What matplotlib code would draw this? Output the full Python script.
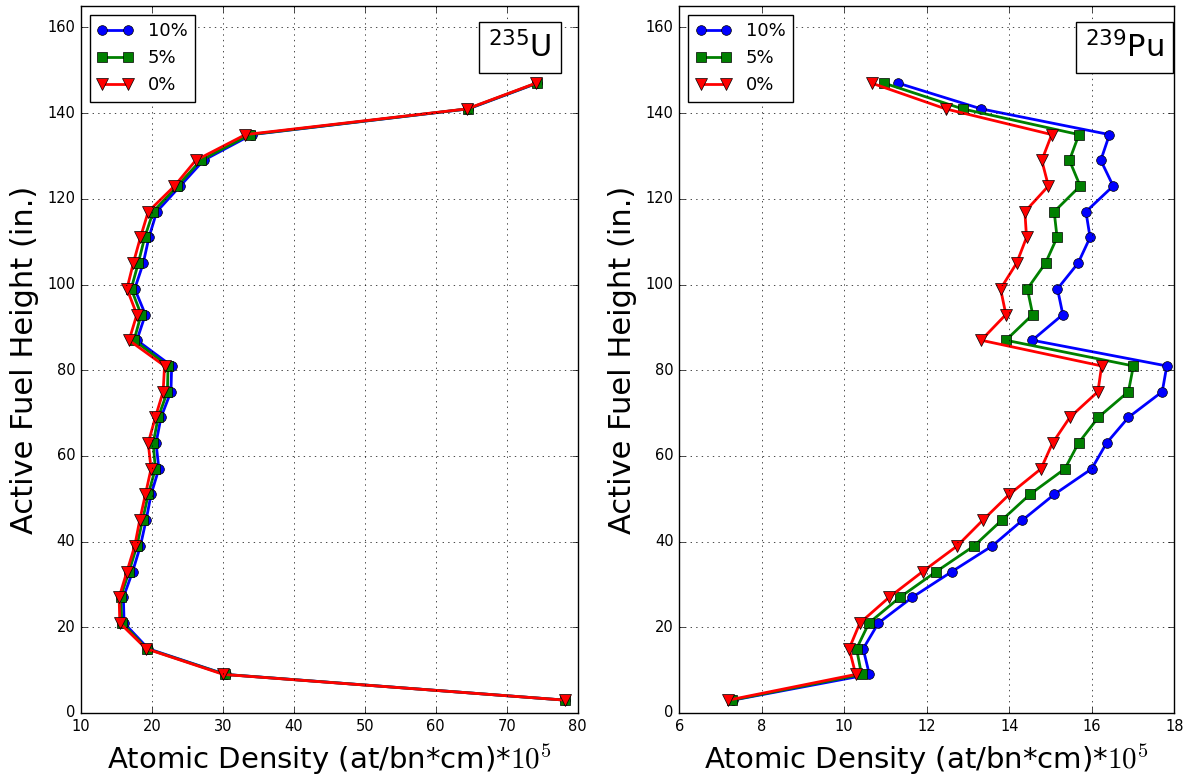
import matplotlib
matplotlib.use("Agg")
import matplotlib.pyplot as plt

plt.style.use('classic')

# axial node heights (in.)
height = [3, 9, 15, 21, 27, 33, 39, 45, 51, 57, 63, 69, 75, 81, 87,
          93, 99, 105, 111, 117, 123, 129, 135, 141, 147]

# U-235 atomic density (at/bn*cm)*1e5
u235_10 = [78.2, 30.4, 19.5, 16.1, 16.0, 17.3, 18.4, 19.2, 19.9, 21.0, 20.6, 21.3, 22.7, 22.8, 17.9,
           19.1, 17.6, 18.8, 19.6, 20.7, 24.0, 27.3, 34.1, 64.6, 74.3]
u235_5 = [78.2, 30.3, 19.3, 15.8, 15.6, 16.8, 17.9, 18.7, 19.5, 20.5, 20.2, 20.9, 22.2, 22.3, 17.5,
          18.5, 17.1, 18.1, 19.0, 20.2, 23.6, 26.9, 33.8, 64.5, 74.2]
u235_0 = [78.2, 30.1, 19.2, 15.5, 15.4, 16.5, 17.6, 18.3, 19.1, 19.9, 19.5, 20.5, 21.6, 21.8, 16.8,
          17.9, 16.5, 17.4, 18.4, 19.5, 23.2, 26.2, 33.2, 64.4, 74.1]

# Pu-239 atomic density (at/bn*cm)*1e5
pu239_10 = [7.30, 10.61, 10.46, 10.83, 11.65, 12.61, 13.59, 14.32, 15.09, 16.00, 16.36, 16.89, 17.71, 17.82, 14.56,
            15.30, 15.17, 15.67, 15.96, 15.86, 16.52, 16.22, 16.43, 13.32, 11.31]
pu239_5 = [7.27, 10.42, 10.30, 10.60, 11.35, 12.23, 13.15, 13.82, 14.50, 15.35, 15.68, 16.16, 16.89, 17.01, 13.92,
           14.57, 14.44, 14.88, 15.16, 15.09, 15.72, 15.46, 15.69, 12.87, 10.97]
pu239_0 = [7.19, 10.28, 10.12, 10.38, 11.09, 11.90, 12.74, 13.36, 14.00, 14.77, 15.05, 15.47, 16.15, 16.24, 13.32,
           13.92, 13.79, 14.18, 14.42, 14.38, 14.95, 14.79, 15.03, 12.46, 10.67]

labels = ['10%', '5%', '0%']

fig = plt.figure(figsize=(11.88, 7.76), dpi=100, facecolor='white')
ax1 = fig.add_axes([0.068, 0.0812, 0.4183, 0.911])
ax2 = fig.add_axes([0.5717, 0.0812, 0.4167, 0.911])

panels = [
    (ax1, [u235_10, u235_5, u235_0], (10, 80), range(10, 81, 10), r'$^{235}$U'),
    (ax2, [pu239_10, pu239_5, pu239_0], (6, 18), range(6, 19, 2), r'$^{239}$Pu'),
]

for ax, series, xlim, xticks, iso in panels:
    ax.plot(series[0], height, 'b-o', lw=2, ms=7, mec='k', mew=0.5, label=labels[0])
    ax.plot(series[1], height, 'g-s', lw=2, ms=7, mec='k', mew=0.5, label=labels[1])
    ax.plot(series[2], height, 'r-v', lw=2, ms=8, mec='k', mew=0.5, label=labels[2])
    ax.set_xlim(xlim)
    ax.set_ylim(0, 165)
    ax.set_xticks(list(xticks))
    ax.set_yticks(range(0, 161, 20))
    ax.tick_params(labelsize=10.5)
    ax.grid(True)
    ax.set_ylabel('Active Fuel Height (in.)', fontsize=22, labelpad=6)
    ax.set_xlabel(r'Atomic Density (at/bn*cm)*$10^5$', fontsize=21, math_fontfamily='cm',
                  labelpad=6)
    ax.legend(loc='upper left', numpoints=2, fontsize=13, borderaxespad=0.5,
              fancybox=False, handlelength=2)
    ax.text(0.8195, 0.9646, iso, transform=ax.transAxes, ha='left', va='top', fontsize=22,
            math_fontfamily='dejavusans',
            bbox=dict(boxstyle='square,pad=0.3', facecolor='white', edgecolor='k'))

fig.savefig('out.png', dpi=100, facecolor='white')
